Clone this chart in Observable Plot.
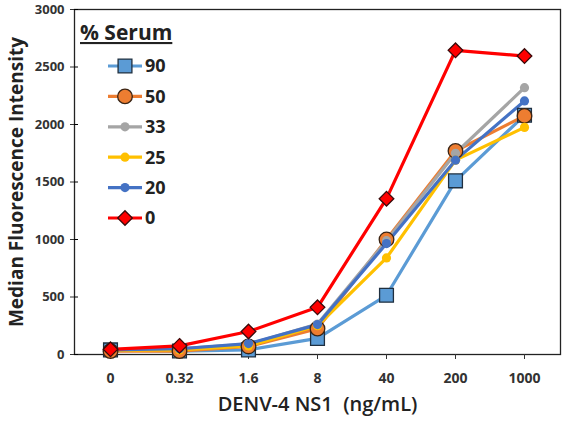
<!DOCTYPE html>
<html><head><meta charset="utf-8">
<script src="https://cdn.jsdelivr.net/npm/d3@7"></script>
<script src="https://cdn.jsdelivr.net/npm/@observablehq/plot@0.6"></script>
<style>
body{margin:0;background:#fff;font-family:"Open Sans",sans-serif;}
#wrap{position:relative;width:566px;height:428px;}
#legend{position:absolute;left:0;top:0;}
</style></head>
<body><div id="wrap"></div>
<script>
const concentrations = ["0","0.32","1.6","8","40","200","1000"];
const serum = ["90","50","33","25","20","0"];
const s90 = [40, 30, 40, 140, 515, 1510, 2080];
const s50 = [30, 30, 70, 225, 1000, 1770, 2075];
const s33 = [40, 50, 90, 265, 990, 1750, 2320];
const s25 = [35, 40, 75, 250, 840, 1690, 1975];
const s20 = [40, 50, 95, 260, 965, 1690, 2205];
const s0  = [45, 75, 200, 410, 1355, 2645, 2595];
const yTicks = [0, 500, 1000, 1500, 2000, 2500, 3000];

const seriesValues = [s90, s50, s33, s25, s20, s0];
const styles = {
  "90": {color:"#5B9BD5", fill:"#5B9BD5", stroke:"#1f2f3f", symbol:"square", r:7.8},
  "50": {color:"#ED7D31", fill:"#ED7D31", stroke:"#3a2414", symbol:"circle", r:7.3},
  "33": {color:"#A5A5A5", fill:"#A5A5A5", stroke:"none", symbol:"circle", r:4.6},
  "25": {color:"#FFC000", fill:"#FFC000", stroke:"none", symbol:"circle", r:4.6},
  "20": {color:"#4472C4", fill:"#4472C4", stroke:"none", symbol:"circle", r:4.6},
  "0":  {color:"#FF0000", fill:"#FF0000", stroke:"#3a0a0a", symbol:"diamond2", r:6.6}
};
const rows = [];
serum.forEach((s, i) => concentrations.forEach((c, j) => rows.push({serum:s, conc:c, mfi:seriesValues[i][j]})));

const marks = [
  Plot.frame({stroke:"#222", strokeWidth:1.3}),
  Plot.axisY({ticks:yTicks, tickSize:4, tickPadding:6, tickFormat:d3.format("d"), fontSize:13, fontWeight:"bold", color:"#333", label:null}),
  Plot.axisY({ticks:yTicks, tickSize:-4, tickFormat:()=>"" , label:null}),
  Plot.axisX({tickSize:5, tickPadding:14, fontSize:14, fontWeight:"bold", color:"#333", label:null}),
];
serum.forEach(s => {
  const st = styles[s];
  const d = rows.filter(r => r.serum === s);
  marks.push(Plot.line(d, {x:"conc", y:"mfi", stroke:st.color, strokeWidth:3.2, curve:"linear"}));
});
serum.forEach(s => {
  const st = styles[s];
  const d = rows.filter(r => r.serum === s);
  marks.push(Plot.dot(d, {x:"conc", y:"mfi", symbol:()=>st.symbol, r:st.r, fill:st.fill, stroke:st.stroke, strokeWidth:1.3}));
});
marks.push(Plot.text(["DENV-4 NS1  (ng/mL)"], {frameAnchor:"bottom", dy:56, fontSize:20, fill:"#222", fontWeight:"600"}));
marks.push(Plot.text(["Median Fluorescence Intensity"], {frameAnchor:"left", textAnchor:"middle", dx:-58, rotate:-90, fontSize:19, fontWeight:"bold", fill:"#222"}));

const chart = Plot.plot({
  width:566, height:428,
  marginLeft:74, marginRight:6, marginTop:9, marginBottom:74,
  style:{fontFamily:"Open Sans, sans-serif", background:"#fff"},
  x:{type:"point", domain:concentrations, padding:0.5},
  y:{domain:[0,3000]},
  symbol:{type:"identity"},
  marks
});
document.getElementById("wrap").appendChild(chart);

// legend overlay
const lg = d3.select("#wrap").append("svg").attr("id","legend").attr("width",566).attr("height",428)
  .style("font-family","Open Sans, sans-serif");
lg.append("text").attr("x",80).attr("y",40).attr("font-size",21).attr("font-weight","bold").attr("fill","#222")
  .attr("text-decoration","underline").text("% Serum");
serum.forEach((s, i) => {
  const st = styles[s];
  const y = 66 + i*30.4;
  const g = lg.append("g").attr("transform",`translate(0,${y})`);
  g.append("line").attr("x1",108).attr("x2",142).attr("y1",0).attr("y2",0).attr("stroke",st.color).attr("stroke-width",3.2);
  const sym = {square:d3.symbolSquare, circle:d3.symbolCircle, diamond2:d3.symbolDiamond2}[st.symbol];
  g.append("path").attr("transform","translate(125,0)").attr("d", d3.symbol(sym, Math.PI*st.r*st.r)())
    .attr("fill",st.fill).attr("stroke",st.stroke).attr("stroke-width",1.3);
  g.append("text").attr("x",145).attr("y",0).attr("dy","0.36em").attr("font-size",18).attr("font-weight","bold").attr("fill","#222").text(s);
});
</script></body></html>
